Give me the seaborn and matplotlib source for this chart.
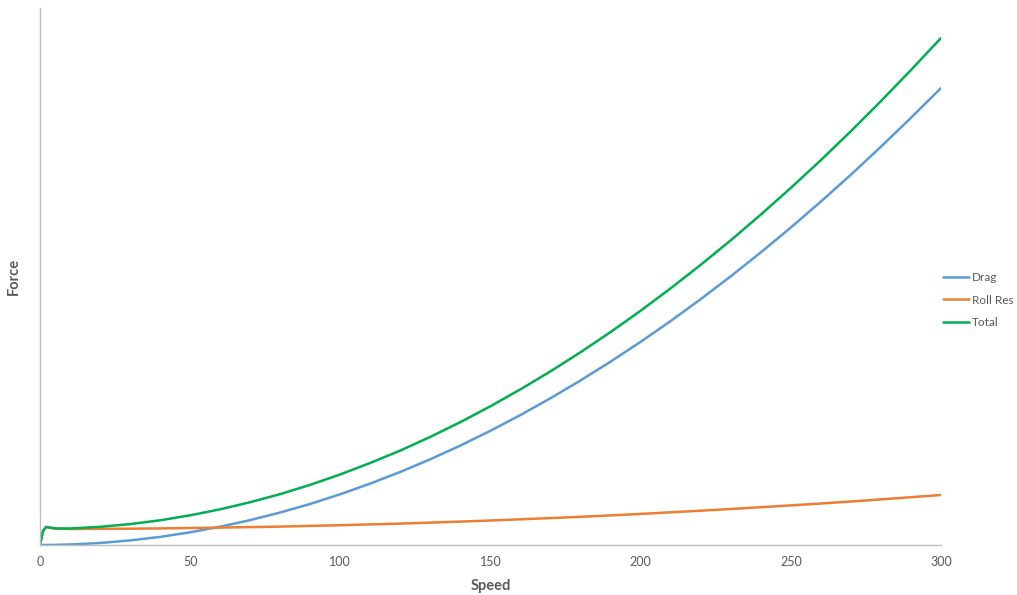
import pandas as pd
import seaborn as sns
import matplotlib
import matplotlib.pyplot as plt

matplotlib.use('Agg')
sns.set_style("white")
plt.rcParams['font.family'] = ['Lato', 'DejaVu Sans']

# values (arbitrary force units)
speed = [0, 1, 2, 3, 5, 10, 20, 30, 40, 50, 60, 70, 80, 90, 100, 110, 120, 130,
         140, 150, 160, 170, 180, 190, 200, 210, 220, 230, 240, 250, 260, 270,
         280, 290, 300]
drag = [0, 0, 0.02, 0.05, 0.13, 0.5, 2.0, 4.6, 8.1, 12.7, 18.3, 24.9, 32.5,
        41.1, 50.8, 61.5, 73.1, 85.8, 99.5, 114.3, 130.0, 146.8, 164.6, 183.4,
        203.2, 224.0, 245.9, 268.7, 292.6, 317.5, 343.4, 370.3, 398.3, 427.2, 457.0]
roll_res = [0, 14, 18, 17.5, 16.5, 16.0, 16.2, 16.3, 16.6, 17.0, 17.4, 17.9,
            18.4, 19.1, 19.8, 20.6, 21.4, 22.4, 23.4, 24.5, 25.7, 26.9, 28.2,
            29.6, 31.1, 32.7, 34.3, 36.0, 37.8, 39.6, 41.5, 43.5, 45.6, 47.8, 50.0]
total = [0, 14, 18, 17.5, 16.6, 16.5, 18.2, 20.9, 24.7, 29.7, 35.7, 42.8, 50.9,
         60.2, 70.6, 82.1, 94.5, 108.2, 122.9, 138.8, 155.7, 173.7, 192.8, 213.0,
         234.3, 256.7, 280.2, 304.7, 330.4, 357.1, 384.9, 413.8, 443.9, 475.0, 507.0]

series = ['Drag', 'Roll Res', 'Total']
colors = ['#5B9BD5', '#ED7D31', '#00B050']

df = pd.DataFrame({'Speed': speed, 'Drag': drag, 'Roll Res': roll_res, 'Total': total})
long_df = df.melt(id_vars='Speed', var_name='Series', value_name='Force')

fig = plt.figure(figsize=(10.17, 5.95), dpi=100)
ax = fig.add_axes([40 / 1017, 50 / 595, 901 / 1017, 537 / 595])

sns.lineplot(data=long_df, x='Speed', y='Force', hue='Series', hue_order=series,
             palette=colors, linewidth=1.8, ax=ax, legend=True)

ax.set_xlim(0, 300)
ax.set_ylim(0, 537)
ax.set_xticks([0, 50, 100, 150, 200, 250, 300])
ax.set_yticks([])
ax.tick_params(axis='x', colors='#595959', labelsize=9, length=0, pad=8)
for s in ['top', 'right']:
    ax.spines[s].set_visible(False)
for s in ['left', 'bottom']:
    ax.spines[s].set_color('#BFBFBF')
    ax.spines[s].set_linewidth(1)

ax.set_xlabel('Speed', fontsize=10.5, fontweight='bold', color='#595959', labelpad=8)
ax.set_ylabel('Force', fontsize=10.5, fontweight='bold', color='#595959', labelpad=14)

handles, labels = ax.get_legend_handles_labels()
ax.get_legend().remove()
fig.legend(handles, labels, loc='center left', bbox_to_anchor=(932 / 1017, 1 - 300 / 595),
           frameon=False, fontsize=8.5, handlelength=2.2, handletextpad=0.3,
           labelspacing=1.0, labelcolor='#595959')

fig.savefig('out.png', dpi=100)
